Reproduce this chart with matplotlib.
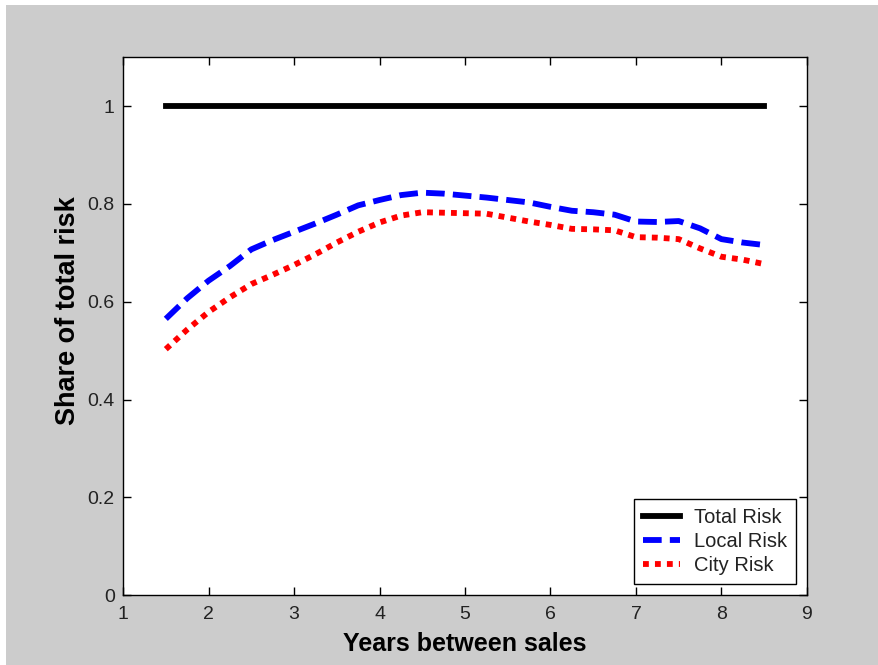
import matplotlib
matplotlib.use("Agg")
import matplotlib.pyplot as plt
from matplotlib.patches import Rectangle

plt.rcParams['font.family'] = ['Liberation Sans', 'DejaVu Sans']

# years between sales, 1.5 .. 8.5 in quarter steps
years = [1.5, 1.75, 2.0, 2.25, 2.5, 2.75, 3.0, 3.25, 3.5, 3.75, 4.0, 4.25, 4.5, 4.75,
         5.0, 5.25, 5.5, 5.75, 6.0, 6.25, 6.5, 6.75, 7.0, 7.25, 7.5, 7.75, 8.0, 8.25, 8.5]
total_risk = [1.0] * len(years)
local_risk = [0.565, 0.607, 0.643, 0.673, 0.707, 0.726, 0.743, 0.760, 0.778, 0.797,
              0.808, 0.818, 0.823, 0.821, 0.817, 0.813, 0.808, 0.803, 0.794, 0.786,
              0.783, 0.778, 0.764, 0.763, 0.765, 0.750, 0.728, 0.721, 0.716]
city_risk = [0.503, 0.543, 0.579, 0.609, 0.636, 0.655, 0.675, 0.697, 0.721, 0.743,
             0.762, 0.776, 0.783, 0.782, 0.781, 0.780, 0.772, 0.764, 0.757, 0.749,
             0.748, 0.746, 0.732, 0.731, 0.728, 0.709, 0.692, 0.686, 0.677]

fig = plt.figure(figsize=(8.79, 6.65), dpi=100, facecolor='white')
# grey matlab-style window background with thin white border
fig.patches.append(Rectangle((6 / 879, 0), 1, 1 - 5 / 665, transform=fig.transFigure,
                             facecolor='#cccccc', edgecolor='none', zorder=-1))

ax = fig.add_axes([0.140, 0.105, 0.778, 0.809])
ax.plot(years, total_risk, '-', color='black', lw=4.2, label='Total Risk')
ax.plot(years, local_risk, '--', color='blue', lw=4.2, dashes=(3.2, 1.4), label='Local Risk')
ax.plot(years, city_risk, ':', color='red', lw=4.2, dashes=(1.0, 1.05), label='City Risk')

ax.set_xlim(1, 9)
ax.set_ylim(0, 1.1)
ax.set_xticks(range(1, 10))
ax.set_yticks([0, 0.2, 0.4, 0.6, 0.8, 1])
ax.set_yticklabels(['0', '0.2', '0.4', '0.6', '0.8', '1'])
ax.tick_params(direction='in', top=True, right=True, labelsize=14, length=6, width=1,
               labelcolor='#222222')
ax.tick_params(axis='x', pad=8)
ax.tick_params(axis='y', pad=6)
for s in ax.spines.values():
    s.set_linewidth(1)

ax.set_xlabel('Years between sales', fontsize=18, fontweight='bold', labelpad=6)
ax.set_ylabel('Share of total risk', fontsize=19.5, fontweight='bold')
ax.yaxis.set_label_coords(-0.062, 0.528)

leg = ax.legend(loc='lower right', fontsize=14.5, fancybox=False, edgecolor='black',
                framealpha=1, handlelength=1.8, handletextpad=0.7, borderaxespad=0.55,
                labelspacing=0.25, borderpad=0.45)
leg.get_frame().set_linewidth(1)
for t in leg.get_texts():
    t.set_color('#222222')

fig.savefig('out.png', dpi=100, facecolor=fig.get_facecolor())
